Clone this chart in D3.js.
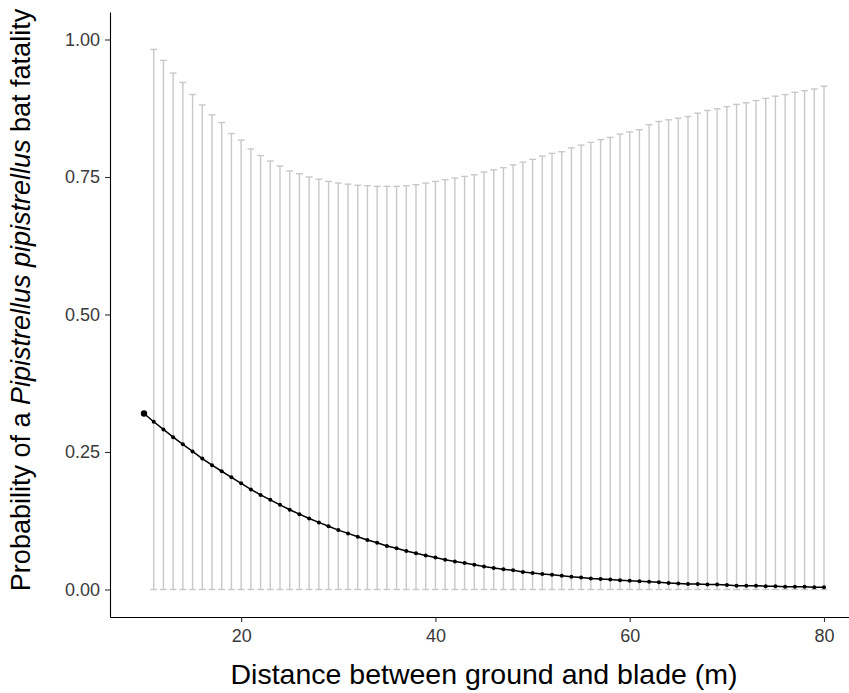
<!DOCTYPE html>
<html>
<head>
<meta charset="utf-8">
<script src="https://cdn.jsdelivr.net/npm/d3@7"></script>
<style>
  body { margin: 0; background: #fff; }
  svg { display: block; font-family: "Liberation Sans", Arial, sans-serif; }
</style>
</head>
<body>
<div id="chart"></div>
<script>
// fitted probability at each ground-to-blade distance
const distances = [10, 11, 12, 13, 14, 15, 16, 17, 18, 19, 20, 21, 22, 23, 24, 25, 26, 27, 28, 29,
  30, 31, 32, 33, 34, 35, 36, 37, 38, 39, 40, 41, 42, 43, 44, 45, 46, 47, 48, 49,
  50, 51, 52, 53, 54, 55, 56, 57, 58, 59, 60, 61, 62, 63, 64, 65, 66, 67, 68, 69,
  70, 71, 72, 73, 74, 75, 76, 77, 78, 79, 80];
const fatality = [0.320, 0.305, 0.291, 0.277, 0.264, 0.251, 0.238, 0.226, 0.215, 0.204,
  0.193, 0.182, 0.172, 0.163, 0.154, 0.145, 0.137, 0.129, 0.122, 0.115,
  0.108, 0.102, 0.096, 0.090, 0.085, 0.079, 0.075, 0.070, 0.066, 0.062,
  0.058, 0.054, 0.051, 0.048, 0.045, 0.042, 0.039, 0.037, 0.035, 0.032,
  0.030, 0.028, 0.027, 0.025, 0.023, 0.022, 0.020, 0.019, 0.018, 0.017,
  0.016, 0.015, 0.014, 0.013, 0.012, 0.011, 0.010, 0.010, 0.009, 0.009,
  0.008, 0.007, 0.007, 0.007, 0.006, 0.006, 0.005, 0.005, 0.005, 0.004, 0.004];

// confidence bars (drawn from 11 m on)
const barDistances = [11, 12, 13, 14, 15, 16, 17, 18, 19, 20, 21, 22, 23, 24, 25, 26, 27, 28, 29,
  30, 31, 32, 33, 34, 35, 36, 37, 38, 39, 40, 41, 42, 43, 44, 45, 46, 47, 48, 49,
  50, 51, 52, 53, 54, 55, 56, 57, 58, 59, 60, 61, 62, 63, 64, 65, 66, 67, 68, 69,
  70, 71, 72, 73, 74, 75, 76, 77, 78, 79, 80];
const upperCI = [0.982, 0.962, 0.939, 0.922, 0.900, 0.881, 0.863, 0.849, 0.829,
  0.817, 0.801, 0.789, 0.779, 0.770, 0.761, 0.756, 0.750, 0.746, 0.742,
  0.739, 0.737, 0.735, 0.734, 0.733, 0.733, 0.733, 0.734, 0.736, 0.739,
  0.742, 0.745, 0.748, 0.751, 0.754, 0.759, 0.763, 0.767, 0.772, 0.777,
  0.782, 0.788, 0.793, 0.796, 0.803, 0.808, 0.813, 0.818, 0.822, 0.828,
  0.832, 0.836, 0.845, 0.851, 0.854, 0.857, 0.860, 0.866, 0.871, 0.874,
  0.878, 0.882, 0.885, 0.889, 0.893, 0.897, 0.900, 0.904, 0.907, 0.910, 0.915];
const lowerCI = 0;

const xTicks = [20, 40, 60, 80];
const yTicks = [0, 0.25, 0.5, 0.75, 1];

const width = 849, height = 693;
const margin = { top: 12, right: -9, bottom: 76, left: 110 };
const innerW = width - margin.left - margin.right;
const innerH = height - margin.top - margin.bottom;

const svg = d3.select('#chart').append('svg')
  .attr('width', width)
  .attr('height', height);

const g = svg.append('g')
  .attr('transform', `translate(${margin.left}, ${margin.top})`);

const xScale = d3.scaleLinear()
  .domain([6.5, 83.5])
  .range([0, innerW]);

const yScale = d3.scaleLinear()
  .domain([-0.05, 1.05])
  .range([innerH, 0]);

const bars = barDistances.map((d, i) => ({ x: d, hi: upperCI[i], lo: lowerCI }));
const pts = distances.map((d, i) => ({ x: d, p: fatality[i] }));

// error bars
const capW = xScale(0.7) - xScale(0);
const eb = g.append('g').attr('class', 'errorbars')
  .attr('stroke', '#c8c8c8')
  .attr('stroke-width', 1.4)
  .attr('fill', 'none');

eb.selectAll('line.stem')
  .data(bars)
  .join('line')
  .attr('class', 'stem')
  .attr('x1', d => xScale(d.x))
  .attr('x2', d => xScale(d.x))
  .attr('y1', d => yScale(d.lo))
  .attr('y2', d => yScale(d.hi));

eb.selectAll('line.captop')
  .data(bars)
  .join('line')
  .attr('class', 'captop')
  .attr('x1', d => xScale(d.x) - capW / 2)
  .attr('x2', d => xScale(d.x) + capW / 2)
  .attr('y1', d => yScale(d.hi))
  .attr('y2', d => yScale(d.hi));

eb.selectAll('line.capbot')
  .data(bars)
  .join('line')
  .attr('class', 'capbot')
  .attr('x1', d => xScale(d.x) - capW / 2)
  .attr('x2', d => xScale(d.x) + capW / 2)
  .attr('y1', d => yScale(d.lo))
  .attr('y2', d => yScale(d.lo));

// fitted line and points
const line = d3.line()
  .x(d => xScale(d.x))
  .y(d => yScale(d.p));

g.append('path')
  .datum(pts)
  .attr('d', line)
  .attr('fill', 'none')
  .attr('stroke', 'black')
  .attr('stroke-width', 1.5);

g.selectAll('circle')
  .data(pts)
  .join('circle')
  .attr('cx', d => xScale(d.x))
  .attr('cy', d => yScale(d.p))
  .attr('r', (d, i) => i === 0 ? 3.2 : 2)
  .attr('fill', 'black');

// axes
const xAxis = g.append('g')
  .attr('class', 'x-axis')
  .attr('transform', `translate(0, ${innerH})`)
  .call(d3.axisBottom(xScale).tickValues(xTicks).tickSize(5).tickPadding(7).tickSizeOuter(0));

const yAxis = g.append('g')
  .attr('class', 'y-axis')
  .call(d3.axisLeft(yScale).tickValues(yTicks).tickFormat(d3.format('.2f')).tickSize(5).tickPadding(5).tickSizeOuter(0));

[xAxis, yAxis].forEach(ax => {
  ax.select('.domain').attr('stroke', 'black').attr('stroke-width', 1.1);
  ax.selectAll('.tick line').attr('stroke', '#333').attr('stroke-width', 1.1);
  ax.selectAll('.tick text')
    .attr('fill', '#3a3a3a')
    .style('font-size', '18px')
    .style('font-family', '"Liberation Sans", Arial, sans-serif');
});

// axis titles
svg.append('text')
  .attr('x', 484)
  .attr('y', 684)
  .attr('text-anchor', 'middle')
  .style('font-size', '28.5px')
  .attr('fill', 'black')
  .text('Distance between ground and blade (m)');

const yTitle = svg.append('text')
  .attr('transform', `translate(30, ${300}) rotate(-90)`)
  .attr('text-anchor', 'middle')
  .style('font-size', '27px')
  .attr('fill', 'black');
yTitle.append('tspan').text('Probability of a ');
yTitle.append('tspan').style('font-style', 'italic').text('Pipistrellus pipistrellus');
yTitle.append('tspan').text(' bat fatality');
</script>
</body>
</html>
